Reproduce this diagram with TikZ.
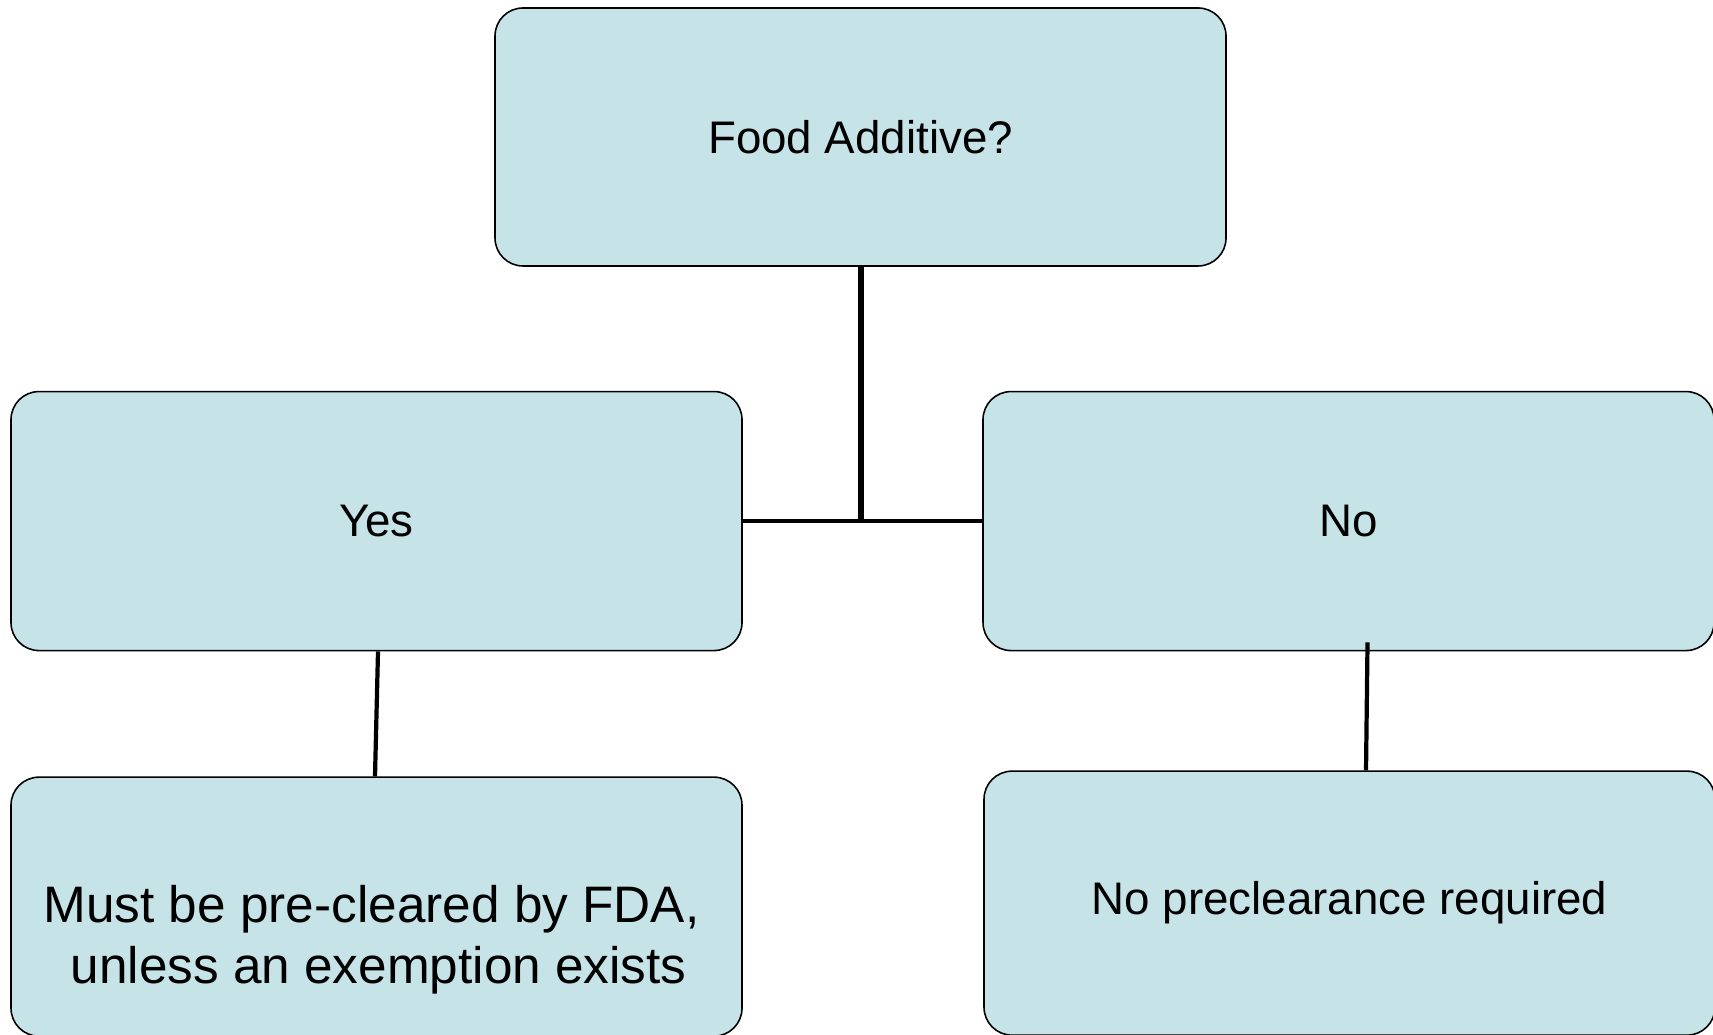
\documentclass[tikz,border=0pt]{standalone}
\usepackage{fontspec}
\setmainfont{Liberation Sans}
\usetikzlibrary{positioning}
\definecolor{boxblue}{RGB}{198,228,232}
\tikzset{
    question/.style={
        rectangle, rounded corners=0.28cm, minimum width=7.31cm, minimum height=2.58cm, text centered, draw=black, line width=0.45pt, fill=boxblue, font=\fontsize{13}{15}\selectfont
    },
    answer/.style={
        rectangle, rounded corners=0.28cm, minimum width=7.31cm, minimum height=2.59cm, text centered, draw=black, line width=0.45pt, fill=boxblue, font=\fontsize{13}{15}\selectfont
    },
    stem/.style={line width=1.7pt},
    bar/.style={line width=1.1pt},
    branch/.style={line width=1.2pt}
}

\begin{document}
\begin{tikzpicture}
        \useasboundingbox (0,0) rectangle (17.13,10.34);
        % Nodes
        \node (food) [question] at (8.605,8.97) {Food Additive?};
        \node (yes) [answer, below=1.24cm of food, xshift=-4.84cm] {Yes};
        \node (no) [answer, below=1.24cm of food, xshift=4.88cm] {No};
        \node (must) [answer, below=1.25cm of yes] {};
        \node (none) [answer, minimum height=2.64cm, below=1.19cm of no, xshift=0.01cm] {No preclearance required};
        \node (mustnote) [align=center, font=\fontsize{14.6}{17.4}\selectfont] at ([xshift=-0.05cm,yshift=-0.33cm]must.center) {Must be pre-cleared by FDA,\\ \ unless an exemption exists};

        % Lines
        \coordinate (joint) at (food.south |- yes.east);
        \draw [stem] (food.south) -- (joint);
        \draw [bar] (yes.east) -- (no.west);
        \draw [branch] ([xshift=0.015cm]yes.south) -- ([xshift=-0.015cm]must.north);
        \draw [branch] ([xshift=0.19cm,yshift=0.09cm]no.south) -- ([xshift=0.165cm]none.north);
    \end{tikzpicture}
\end{document}
